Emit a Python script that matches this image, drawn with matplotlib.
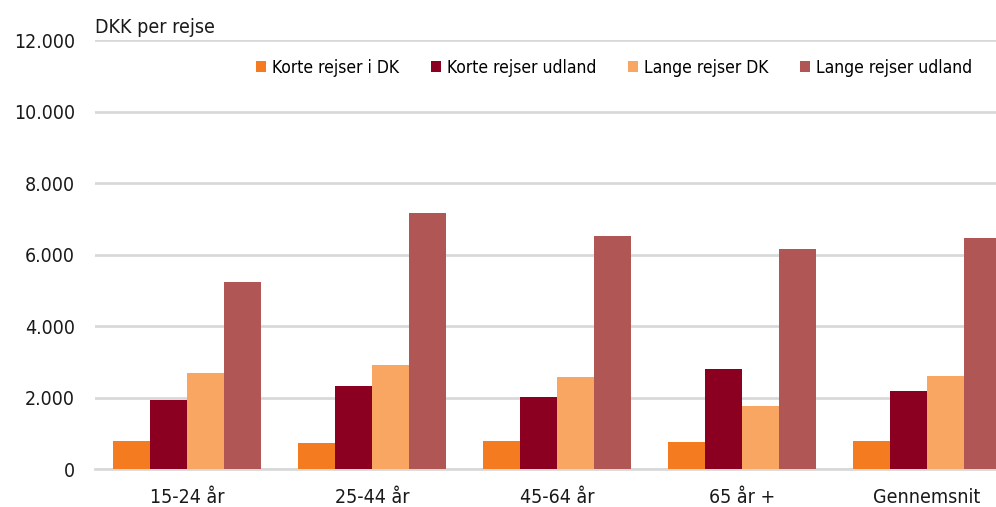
import numpy as np
import matplotlib
matplotlib.use("Agg")
import matplotlib.pyplot as plt
import matplotlib.ticker as ticker

plt.rcParams['font.family'] = ['DejaVu Sans']
plt.rcParams['font.stretch'] = 'condensed'

categories = ["15-24 år", "25-44 år", "45-64 år", "65 år +", "Gennemsnit"]
series_names = ["Korte rejser i DK", "Korte rejser udland", "Lange rejser DK", "Lange rejser udland"]
korte_dk = [800, 745, 800, 765, 785]
korte_udland = [1945, 2330, 2025, 2800, 2190]
lange_dk = [2690, 2920, 2585, 1765, 2620]
lange_udland = [5250, 7170, 6530, 6175, 6465]
colors = ["#F47B20", "#8B0020", "#F8A662", "#B05654"]

fig = plt.figure(figsize=(9.96, 5.07), dpi=100)
ax = fig.add_axes([0.0949, 0.074, 0.9287, 0.847])

x = np.arange(len(categories))
w = 0.2
for i, vals in enumerate([korte_dk, korte_udland, lange_dk, lange_udland]):
    ax.bar(x - 0.3 + i * w, vals, width=w, color=colors[i], label=series_names[i], zorder=3)

ax.set_xlim(-0.5, len(categories) - 0.5)
ax.set_ylim(0, 12000)
ax.yaxis.set_major_locator(ticker.MultipleLocator(2000))
ax.yaxis.set_major_formatter(ticker.FuncFormatter(lambda v, p: f"{int(v):,}".replace(",", ".")))
ax.grid(axis='y', color='#d9d9d9', linewidth=2, zorder=0)
ax.set_axisbelow(True)
for s in ['top', 'right', 'left']:
    ax.spines[s].set_visible(False)
ax.spines['bottom'].set_color('#d9d9d9')
ax.spines['bottom'].set_linewidth(2)
ax.tick_params(axis='both', length=0, labelsize=14, colors='#1a1a1a')
ax.tick_params(axis='y', pad=14)
ax.tick_params(axis='x', pad=13)
ax.set_xticks(x)
ax.set_xticklabels(categories)

fig.text(0.0949, 0.945, "DKK per rejse", fontsize=14, color='#1a1a1a', va='center', ha='left')

leg = fig.legend(loc='center right', bbox_to_anchor=(0.985, 0.866), ncol=4, frameon=False,
                 fontsize=12.5, handlelength=0.6, handleheight=0.6, handletextpad=0.35,
                 columnspacing=1.8, borderpad=0)

fig.savefig("out.png", dpi=100)
